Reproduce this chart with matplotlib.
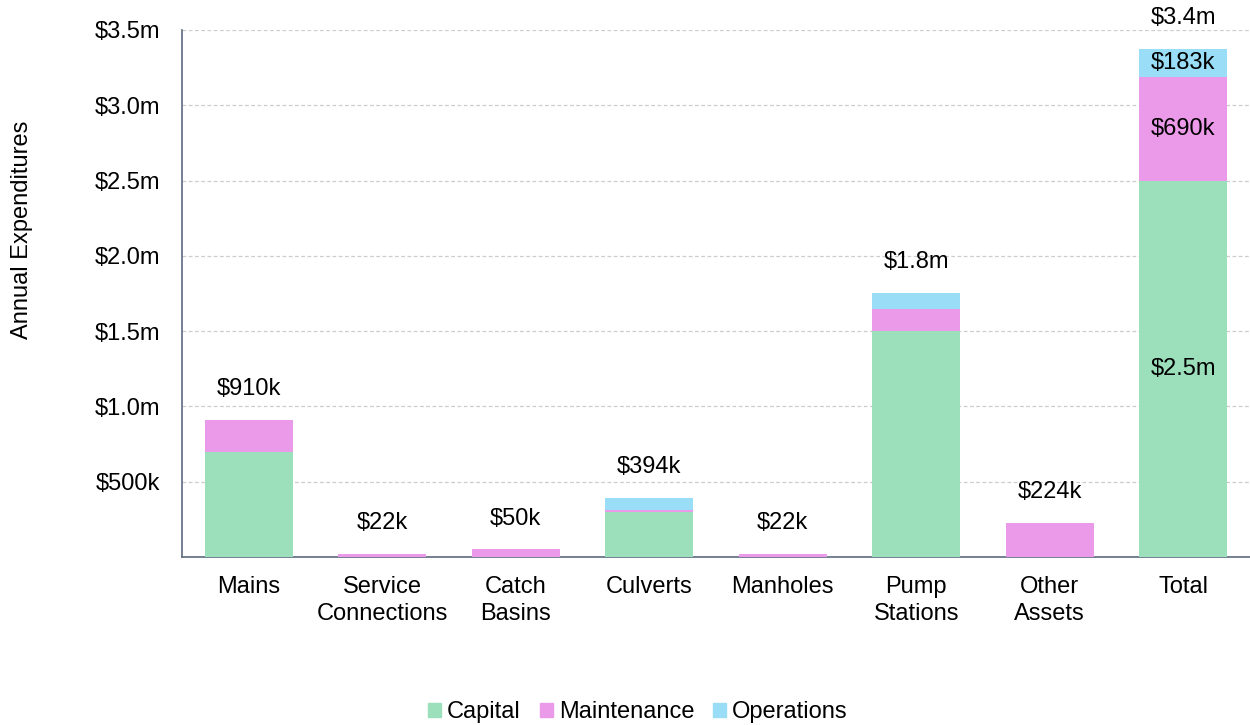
import matplotlib
matplotlib.use("Agg")
import matplotlib.pyplot as plt
from matplotlib.patches import Patch
import numpy as np

plt.rcParams['font.family'] = ['Liberation Sans', 'DejaVu Sans']

categories = ["Mains", "Service\nConnections", "Catch\nBasins", "Culverts",
              "Manholes", "Pump\nStations", "Other\nAssets"]
# annual expenditures in $k
capital = [700, 0, 0, 300, 0, 1500, 0]
maintenance = [210, 22, 50, 14, 22, 148, 224]
operations = [0, 0, 0, 80, 0, 103, 0]
bar_labels = ["$910k", "$22k", "$50k", "$394k", "$22k", "$1.8m", "$224k"]
total_labels = {"capital": "$2.5m", "maintenance": "$690k", "operations": "$183k", "all": "$3.4m"}

ytick_values = [500, 1000, 1500, 2000, 2500, 3000, 3500]
ytick_labels = ["$500k", "$1.0m", "$1.5m", "$2.0m", "$2.5m", "$3.0m", "$3.5m"]

col_cap = "#9BE0BB"
col_mnt = "#EA9AE8"
col_ops = "#9ADDF6"
FS = 17

cap_all = capital + [sum(capital)]
mnt_all = maintenance + [sum(maintenance)]
ops_all = operations + [sum(operations)]
labels_all = categories + ["Total"]

fig = plt.figure(figsize=(12.5, 7.25), dpi=100)
ax = fig.add_axes([182 / 1250, 1 - 557 / 725, 1068 / 1250, 527 / 725])

x = np.arange(len(labels_all))
w = 0.66
cap_arr = np.array(cap_all)
mnt_arr = np.array(mnt_all)
ops_arr = np.array(ops_all)
ax.bar(x, cap_arr, w, color=col_cap, zorder=3)
ax.bar(x, mnt_arr, w, bottom=cap_arr, color=col_mnt, zorder=3)
ax.bar(x, ops_arr, w, bottom=cap_arr + mnt_arr, color=col_ops, zorder=3)

tops = cap_arr + mnt_arr + ops_arr
for i, lab in enumerate(bar_labels):
    ax.text(x[i], tops[i] + 205, lab, ha="center", va="center", fontsize=FS)

# segment labels on the total bar
it = len(labels_all) - 1
ax.text(it, cap_arr[it] / 2, total_labels["capital"], ha="center", va="center", fontsize=FS, zorder=4)
ax.text(it, cap_arr[it] + mnt_arr[it] / 2, total_labels["maintenance"], ha="center", va="center", fontsize=FS, zorder=4)
ax.text(it, cap_arr[it] + mnt_arr[it] + ops_arr[it] / 2, total_labels["operations"], ha="center", va="center", fontsize=FS, zorder=4)
ax.text(it, tops[it] + 205, total_labels["all"], ha="center", va="center", fontsize=FS, clip_on=False)

ax.set_xlim(-0.5, len(labels_all) - 0.5)
ax.set_ylim(0, 3500)
ax.set_yticks(ytick_values)
ax.set_yticklabels(ytick_labels, fontsize=FS)
ax.set_xticks(x)
ax.set_xticklabels(labels_all, fontsize=FS, linespacing=1.25)
ax.tick_params(axis="x", length=0, pad=14)
ax.tick_params(axis="y", length=0, pad=16)

ax.grid(axis="y", color="#CDCDCD", linestyle=(0, (3, 2)), linewidth=0.9, zorder=0)
for s in ["top", "right"]:
    ax.spines[s].set_visible(False)
for s in ["left", "bottom"]:
    ax.spines[s].set_color("#5C6B80")
    ax.spines[s].set_linewidth(1.2)

fig.text(22 / 1250, 1 - 230 / 725, "Annual Expenditures", rotation=90,
         ha="center", va="center", fontsize=FS)

handles = [Patch(color=col_cap, label="Capital"),
           Patch(color=col_mnt, label="Maintenance"),
           Patch(color=col_ops, label="Operations")]
fig.legend(handles=handles, loc="center", bbox_to_anchor=(638 / 1250, 1 - 712 / 725),
           ncol=3, frameon=False, fontsize=FS, handlelength=0.55, handleheight=0.55,
           handletextpad=0.25, columnspacing=0.8)

fig.savefig("out.png", dpi=100)
